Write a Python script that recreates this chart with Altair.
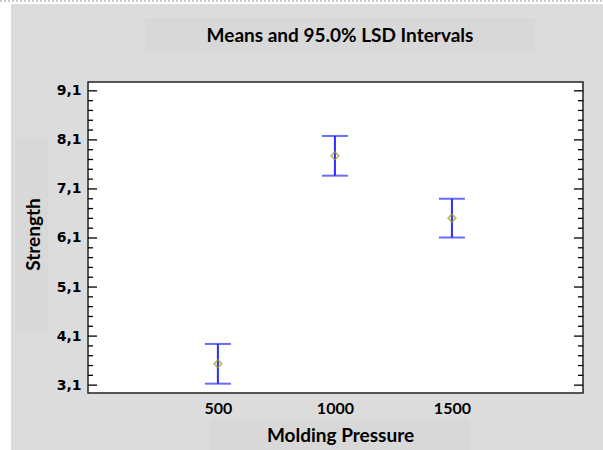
import altair as alt
import pandas as pd

# ---- data ----
pressure = [500, 1000, 1500]
means = [3.535, 7.775, 6.505]
lower = [3.13, 7.37, 6.11]
upper = [3.94, 8.18, 6.90]
x_ticks = [500, 1000, 1500]
major_ticks = [3.1, 4.1, 5.1, 6.1, 7.1, 8.1, 9.1]
minor_ticks = [3.3, 3.5, 3.7, 3.9, 4.3, 4.5, 4.7, 4.9, 5.3, 5.5, 5.7, 5.9,
               6.3, 6.5, 6.7, 6.9, 7.3, 7.5, 7.7, 7.9, 8.3, 8.5, 8.7, 8.9]

W, H = 495, 311
df = pd.DataFrame({"pressure": pressure, "mean": means, "lower": lower, "upper": upper})
dummy = alt.Data(values=[{}])

xscale = alt.Scale(domain=[-55, 2060], nice=False, zero=False)
yscale = alt.Scale(domain=[2.94, 9.28], nice=False, zero=False)

xaxis = alt.Axis(values=x_ticks, format="d", ticks=False, domain=False, grid=False,
                 labelFont="Lato", labelFontSize=16, labelFontWeight="bold", labelColor="black",
                 labelPadding=7, title="Molding Pressure", titleFont="Lato", titleFontSize=19,
                 titleFontWeight="bold", titleColor="black", titleX=252, titleY=48,
                 titleAlign="center", titleBaseline="alphabetic", zindex=1)
yaxis = alt.Axis(values=major_ticks, labelExpr="replace(format(datum.value, '.1f'), '.', ',')",
                 ticks=False, domain=False, grid=False,
                 labelFont="DejaVu Sans", labelFontSize=14, labelFontWeight="bold", labelColor="black",
                 labelPadding=7, title="Strength", titleFont="Lato", titleFontSize=19,
                 titleFontWeight="bold", titleColor="black", titleX=-55, titleY=152,
                 titleAngle=270, titleAlign="center", titleBaseline="middle", zindex=1)

X = alt.X("pressure:Q", scale=xscale, axis=xaxis)

# decorations
box_col = "#d8d8d8"
left_strip = alt.Chart(dummy).mark_rect(color="white").encode(
    x=alt.value(-88), x2=alt.value(-77), y=alt.value(-82), y2=alt.value(368))
top_strip = alt.Chart(dummy).mark_rect(color="white").encode(
    x=alt.value(-88), x2=alt.value(515), y=alt.value(-82), y2=alt.value(-78))
dotted = alt.Chart(dummy).mark_rule(color="#999999", strokeDash=[2, 2], strokeWidth=1).encode(
    x=alt.value(-88), x2=alt.value(515), y=alt.value(-81))
title_box = alt.Chart(dummy).mark_rect(color=box_col).encode(
    x=alt.value(57), x2=alt.value(447), y=alt.value(-64), y2=alt.value(-31))
ytitle_box = alt.Chart(dummy).mark_rect(color=box_col).encode(
    x=alt.value(-73), x2=alt.value(-40), y=alt.value(55), y2=alt.value(250))
xtitle_box = alt.Chart(dummy).mark_rect(color=box_col).encode(
    x=alt.value(122), x2=alt.value(382), y=alt.value(338), y2=alt.value(368))
title = alt.Chart(dummy).mark_text(
    text="Means and 95.0% LSD Intervals", font="Lato", fontSize=19, fontWeight="bold",
    align="center", baseline="alphabetic", color="black").encode(
    x=alt.value(252), y=alt.value(-40))

# tick marks pointing inward on both sides
maj = pd.DataFrame({"v": major_ticks})
mnr = pd.DataFrame({"v": minor_ticks})
Yt = alt.Y("v:Q", scale=yscale, axis=yaxis)
lt_major = alt.Chart(maj).mark_rule(color="black", strokeWidth=1.3).encode(
    y=Yt, x=alt.value(0), x2=alt.value(9))
lt_minor = alt.Chart(mnr).mark_rule(color="black", strokeWidth=1.3).encode(
    y=Yt, x=alt.value(0), x2=alt.value(5))
rt_major = alt.Chart(maj).mark_rule(color="black", strokeWidth=1.3).encode(
    y=Yt, x=alt.value(W - 9), x2=alt.value(W))
rt_minor = alt.Chart(mnr).mark_rule(color="black", strokeWidth=1.3).encode(
    y=Yt, x=alt.value(W - 5), x2=alt.value(W))

blue = "#2b2bff"
base = alt.Chart(df)
bars = base.mark_rule(color=blue, strokeWidth=2).encode(
    x=X, y=alt.Y("lower:Q", scale=yscale, axis=yaxis), y2="upper:Q")
cap_lo = base.mark_tick(color=blue, orient="horizontal", size=26, thickness=2).encode(
    x=X, y=alt.Y("lower:Q", scale=yscale, axis=yaxis))
cap_hi = base.mark_tick(color=blue, orient="horizontal", size=26, thickness=2).encode(
    x=X, y=alt.Y("upper:Q", scale=yscale, axis=yaxis))
pts = base.mark_point(shape="diamond", filled=False, color="#9c9c1c", size=60, strokeWidth=1.6).encode(
    x=X, y=alt.Y("mean:Q", scale=yscale, axis=yaxis))

chart = alt.layer(
    left_strip, top_strip, dotted, title_box, ytitle_box, xtitle_box, title,
    lt_major, lt_minor, rt_major, rt_minor, bars, cap_lo, cap_hi, pts
).properties(
    width=W, height=H,
    background="#dcdcdc",
    padding={"left": 88, "top": 82, "right": 20, "bottom": 57},
    autosize=alt.AutoSizeParams(type="none"),
).configure_view(fill="white", stroke="#222222", strokeWidth=1.5)

chart.save("out.html", embed_options={"renderer": "svg", "actions": False})
